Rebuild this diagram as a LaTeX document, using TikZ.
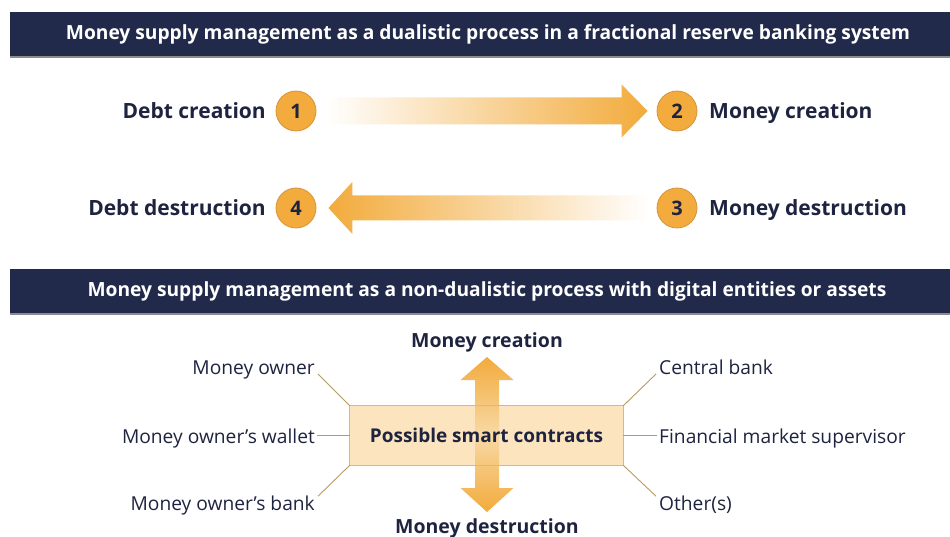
\documentclass[tikz,border=0pt]{standalone}
\usepackage{fontspec}
\setmainfont{Open Sans}
\newfontfamily\titlefont[FakeStretch=0.985]{Open Sans}
\usetikzlibrary{calc}

\definecolor{navy}{HTML}{222A4B}
\definecolor{ink}{HTML}{1E2340}
\definecolor{amber}{HTML}{F2AB3C}
\definecolor{amberline}{HTML}{D6943A}
\definecolor{paleamber}{HTML}{F8D9A6}
\definecolor{boxfill}{HTML}{FCE4BE}
\definecolor{boxline}{HTML}{EDB65A}
\definecolor{leader}{HTML}{B89A60}
\definecolor{bannershadow}{HTML}{8C8C90}

\tikzset{
  bannertext/.style={text=white, inner sep=0,
    font=\titlefont\bfseries\fontsize{19.5}{20}\selectfont},
  num/.style={circle, fill=amber, draw=amberline, line width=0.8pt,
    minimum size=40pt, inner sep=0, text=ink,
    font=\bfseries\fontsize{20}{20}\selectfont},
  steplabel/.style={inner sep=0, text=ink,
    font=\bfseries\fontsize{21}{22}\selectfont},
  party/.style={inner sep=0, text=ink,
    font=\fontsize{19.2}{20}\selectfont},
  leaderline/.style={draw=leader, line width=0.9pt},
}

\begin{document}
\begin{tikzpicture}[x=1pt,y=-1pt]
\useasboundingbox (0,0) rectangle (950,537);

% ---- banners ----
\fill[bannershadow] (10,55.5) rectangle (950,58);
\fill[navy] (10,12) rectangle (950,56);
\node[bannertext] (t1) at (488,34)
  {Money supply management as a dualistic process in a fractional reserve banking system};

\fill[bannershadow] (10,312.5) rectangle (950,315);
\fill[navy] (10,269) rectangle (950,313);
\node[bannertext] (t2) at (487,291)
  {Money supply management as a non-dualistic process with digital entities or assets};

% ---- dualistic cycle ----
\node[num] (c1) at (296,111) {1};
\node[num] (c2) at (677,111) {2};
\node[num] (c3) at (677,208) {3};
\node[num] (c4) at (296,208) {4};

\node[steplabel, anchor=base east] (l1) at (266,119) {Debt creation};
\node[steplabel, anchor=base west] (l2) at (709,119) {Money creation};
\node[steplabel, anchor=base west] (l3) at (709,216) {Money destruction};
\node[steplabel, anchor=base east] (l4) at (266,216) {Debt destruction};

% block arrow 1 -> 2, fading in from the left
\coordinate (a1t) at ($(c1.east)+(9,0)$);
\coordinate (a1h) at ($(c2.west)+(-9,0)$);
\shade[left color=white, right color=amber]
  ($(a1t)+(0,-13.5)$) -- ($(a1h)+(-26,-13.5)$) -- ($(a1h)+(-26,-26.5)$)
  -- (a1h) -- ($(a1h)+(-26,26.5)$) -- ($(a1h)+(-26,13.5)$)
  -- ($(a1t)+(0,13.5)$) -- cycle;

% block arrow 3 -> 4, fading in from the right
\coordinate (a2t) at ($(c3.west)+(-7,0)$);
\coordinate (a2h) at ($(c4.east)+(12,0)$);
\shade[left color=amber, right color=white]
  ($(a2t)+(0,-12.5)$) -- ($(a2h)+(24,-12.5)$) -- ($(a2h)+(24,-26)$)
  -- (a2h) -- ($(a2h)+(24,26)$) -- ($(a2h)+(24,12.5)$)
  -- ($(a2t)+(0,12.5)$) -- cycle;

% ---- non-dualistic hub ----
\node[fill=boxfill, minimum width=273pt, minimum height=59pt, inner sep=0]
  (sc) at (486.5,435.5) {};

\node[steplabel, font=\bfseries\fontsize{19.5}{20}\selectfont, anchor=base]
  (mc) at (487,347) {Money creation};
\node[steplabel, font=\bfseries\fontsize{19.5}{20}\selectfont, anchor=base]
  (md) at (487,533) {Money destruction};

% double arrow through the hub
\coordinate (up) at (487,357);
\coordinate (dn) at (487,512);
\shade[top color=amber, bottom color=amber, middle color=paleamber]
  (up) -- ($(up)+(26.5,23)$) -- ($(up)+(12,23)$) -- ($(dn)+(12,-24)$)
  -- ($(dn)+(26.5,-24)$) -- (dn) -- ($(dn)+(-26.5,-24)$) -- ($(dn)+(-12,-24)$)
  -- ($(up)+(-12,23)$) -- ($(up)+(-26.5,23)$) -- cycle;

\draw[boxline, line width=1pt] (sc.north west) rectangle (sc.south east);
\node[steplabel, font=\bfseries\fontsize{19}{20}\selectfont] (sct) at (sc)
  {Possible smart contracts};

% parties around the hub
\node[party, anchor=base east] (p1) at (315,374) {Money owner};
\node[party, anchor=base east] (p2) at (315,443) {Money owner’s wallet};
\node[party, anchor=base east] (p3) at (315,510) {Money owner’s bank};
\node[party, anchor=base west] (q1) at (659,374) {Central bank};
\node[party, anchor=base west] (q2) at (659,443) {Financial market supervisor};
\node[party, anchor=base west] (q3) at (659,510) {Other(s)};

\draw[leaderline] (sc.north west) -- ($(p1.base east)+(3,0)$);
\draw[leaderline] (sc.west) -- ($(sc.west -| p2.east)+(2,0)$);
\draw[leaderline] (sc.south west) -- ($(p3.north east)+(3,1)$);
\draw[leaderline] (sc.north east) -- ($(q1.base west)+(-3,0)$);
\draw[leaderline] (sc.east) -- ($(sc.east -| q2.west)+(-2,0)$);
\draw[leaderline] (sc.south east) -- ($(q3.north west)+(-3,1)$);
\end{tikzpicture}
\end{document}
